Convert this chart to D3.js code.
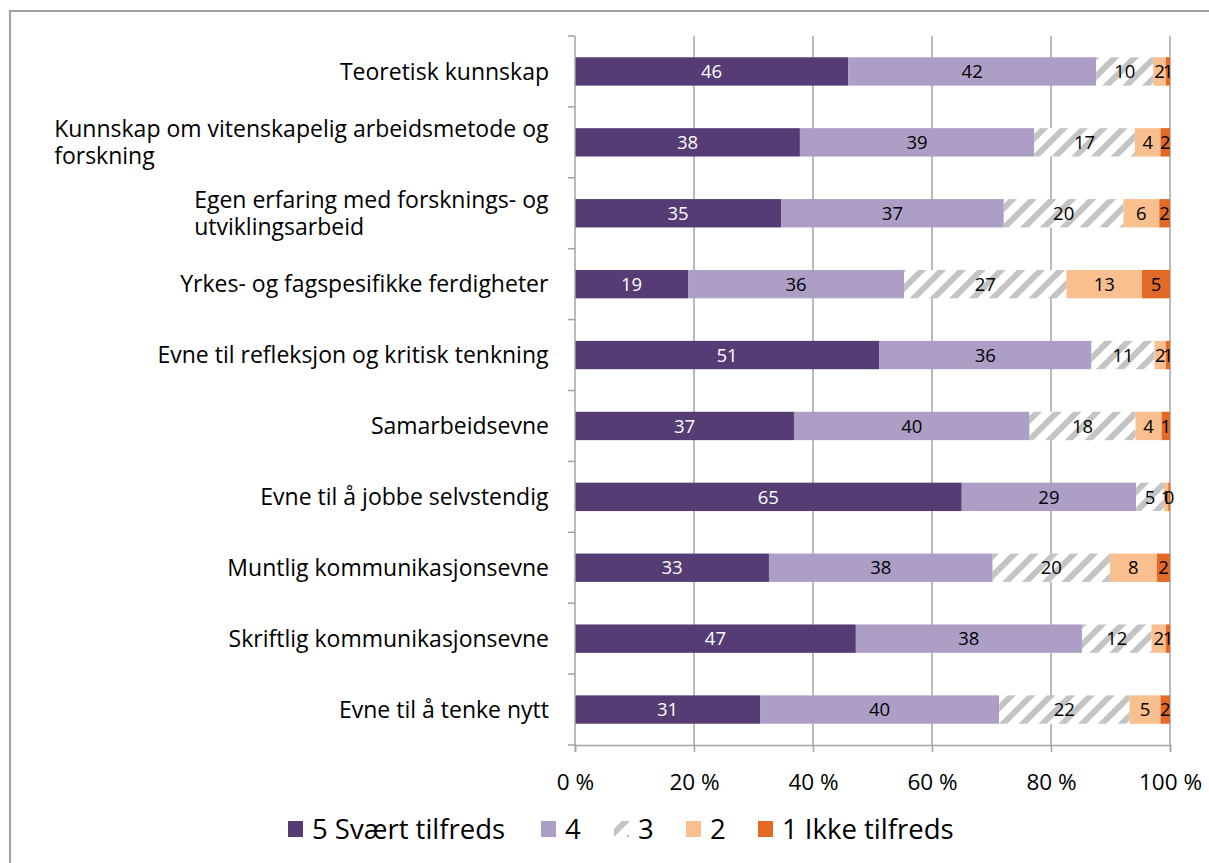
<!DOCTYPE html>
<html><head><meta charset="utf-8">
<script src="https://cdn.jsdelivr.net/npm/d3@7"></script>
<style>
html,body{margin:0;padding:0;background:#fff;}
svg{display:block;}
text{font-family:"Open Sans",Lato,sans-serif;}
</style></head>
<body>
<svg id="chart" width="1209" height="863"></svg>
<script>
const categories = [
  "Teoretisk kunnskap",
  "Kunnskap om vitenskapelig arbeidsmetode og\nforskning",
  "Egen erfaring med forsknings- og\nutviklingsarbeid",
  "Yrkes- og fagspesifikke ferdigheter",
  "Evne til refleksjon og kritisk tenkning",
  "Samarbeidsevne",
  "Evne til å jobbe selvstendig",
  "Muntlig kommunikasjonsevne",
  "Skriftlig kommunikasjonsevne",
  "Evne til å tenke nytt"
];
const seriesNames = ["5 Svært tilfreds", "4", "3", "2", "1 Ikke tilfreds"];
const s5 = [45.9, 37.8, 34.6, 19.0, 51.1, 36.8, 65.0, 32.6, 47.2, 31.1];
const s4 = [41.7, 39.4, 37.4, 36.3, 35.7, 39.6, 29.3, 37.6, 38.0, 40.2];
const s3 = [9.6, 16.9, 20.1, 27.3, 10.6, 17.8, 4.7, 19.7, 11.7, 21.9];
const s2 = [2.1, 4.3, 6.0, 12.7, 1.9, 4.4, 0.7, 7.9, 2.4, 5.2];
const s1 = [0.7, 1.6, 1.8, 4.7, 0.7, 1.4, 0.3, 2.2, 0.7, 1.6];
const tickValues = [0, 0.2, 0.4, 0.6, 0.8, 1.0];
const tickLabels = ["0 %", "20 %", "40 %", "60 %", "80 %", "100 %"];

const colors = ["#553c74", "#ad9ec6", "url(#hatch)", "#f9bf8e", "#e36a26"];
const labelColors = ["#ffffff", "#000000", "#000000", "#000000", "#000000"];

const svg = d3.select("#chart");
const defs = svg.append("defs");
const pat = defs.append("pattern").attr("id", "hatch")
  .attr("patternUnits", "userSpaceOnUse").attr("width", 14).attr("height", 14)
  .attr("patternTransform", "rotate(45)");
pat.append("rect").attr("width", 14).attr("height", 14).attr("fill", "#ffffff");
pat.append("rect").attr("x", 0).attr("y", 0).attr("width", 6).attr("height", 14).attr("fill", "#c4c4c4");

// outer border
svg.append("rect").attr("x", 10).attr("y", 11).attr("width", 1220).attr("height", 900)
  .attr("fill", "none").attr("stroke", "#a0a0a0").attr("stroke-width", 2);

const rows = categories.map((c, i) => ({cat: c, k0: s5[i], k1: s4[i], k2: s3[i], k3: s2[i], k4: s1[i]}));
const keys = ["k0", "k1", "k2", "k3", "k4"];
const stacked = d3.stack().keys(keys).offset(d3.stackOffsetExpand)(rows);

const x = d3.scaleLinear().domain([0, 1]).range([575, 1170]);
const y = d3.scaleBand().domain(categories).range([36, 745]).paddingInner(0.6).paddingOuter(0.3);

const gridColor = "#a3a3a3";
// gridlines
svg.append("g").selectAll("line").data(tickValues.slice(1)).join("line")
  .attr("x1", d => x(d)).attr("x2", d => x(d)).attr("y1", 36).attr("y2", 745)
  .attr("stroke", gridColor).attr("stroke-width", 1.5);

// bars
const g = svg.append("g");
stacked.forEach((layer, li) => {
  g.append("g").selectAll("rect").data(layer).join("rect")
    .attr("x", d => x(d[0])).attr("width", d => x(d[1]) - x(d[0]))
    .attr("y", d => y(d.data.cat)).attr("height", y.bandwidth())
    .attr("fill", colors[li]);
});
// labels
stacked.forEach((layer, li) => {
  g.append("g").selectAll("text").data(layer).join("text")
    .attr("x", d => (x(d[0]) + x(d[1])) / 2)
    .attr("y", d => y(d.data.cat) + y.bandwidth() / 2)
    .attr("dy", "0.36em").attr("text-anchor", "middle")
    .attr("font-size", 18.5).attr("fill", labelColors[li])
    .text(d => d3.format(".0f")(d.data[keys[li]]));
});

// left axis
const step = y.step();
const boundaries = d3.range(categories.length + 1).map(i => 36 + i * step);
svg.append("line").attr("x1", 575).attr("x2", 575).attr("y1", 36).attr("y2", 745)
  .attr("stroke", gridColor).attr("stroke-width", 1.5);
svg.append("g").selectAll("line").data(boundaries).join("line")
  .attr("x1", 568).attr("x2", 575).attr("y1", d => d).attr("y2", d => d)
  .attr("stroke", gridColor).attr("stroke-width", 1.5);

// bottom axis
const xAxis = d3.axisBottom(x).tickValues(tickValues).tickFormat((d, i) => tickLabels[i]).tickSize(7).tickPadding(24);
const ax = svg.append("g").attr("transform", "translate(0,745)").call(xAxis);
ax.select(".domain").attr("stroke", gridColor).attr("stroke-width", 1.5);
ax.selectAll(".tick line").attr("stroke", gridColor).attr("stroke-width", 1.5);
ax.selectAll(".tick text").attr("font-size", 22.5).attr("fill", "#000").attr("font-family", "Open Sans").attr("dy", "0.62em");

// category labels
const lineH = 27;
categories.forEach(c => {
  const lines = c.split("\n");
  const cy = y(c) + y.bandwidth() / 2;
  const t = svg.append("text").attr("font-size", 23).attr("fill", "#000");
  lines.forEach((ln, j) => {
    t.append("tspan").attr("x", 0).attr("y", cy + (j - (lines.length - 1) / 2) * lineH).attr("dy", "0.36em").text(ln);
  });
  const w = t.node().getBBox().width;
  t.attr("transform", `translate(${549 - w},0)`);
});

// legend
const legend = svg.append("g").attr("transform", "translate(0,829)");
const legX = [288, 541, 614, 686, 758];
seriesNames.forEach((n, i) => {
  legend.append("rect").attr("x", legX[i]).attr("y", -8).attr("width", 15).attr("height", 16).attr("fill", colors[i]);
  legend.append("text").attr("x", legX[i] + 24).attr("y", 0).attr("dy", "0.36em")
    .attr("font-size", 27.5).attr("fill", "#000").text(n);
});
</script>
</body></html>
